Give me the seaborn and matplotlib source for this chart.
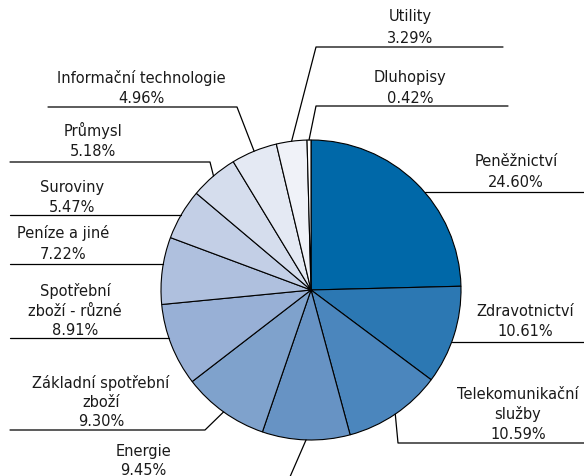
import numpy as np
import seaborn as sns
import matplotlib.pyplot as plt

# --- data ---
sectors = ['Peněžnictví', 'Zdravotnictví', 'Telekomunikační\nslužby', 'Energie',
           'Základní spotřební\nzboží', 'Spotřební\nzboží - různé', 'Peníze a jiné',
           'Suroviny', 'Průmysl', 'Informační technologie', 'Utility', 'Dluhopisy']
shares = [24.60, 10.61, 10.59, 9.45, 9.30, 8.91, 7.22, 5.47, 5.18, 4.96, 3.29, 0.42]
colors = ['#0068a8', '#2c78b3', '#4b86bd', '#6793c4', '#7fa2cc', '#98b0d6',
          '#afc0de', '#c3cfe6', '#d5dded', '#e4e9f3', '#f0f2f8', '#ffffff']

# label layout in pixel coordinates (y from top):
# text centre x, text baselines y, underline y, elbow x (None = line meets circle), far end x
layout = [
    (516, [166, 187], 193, None, 584),
    (525, [316, 336], 343, None, 584),
    (518, [399, 419, 439], 444, 398, 584),
    (143, [456, 475], 487, 286, 100),
    (101, [388, 407, 426], 431, 205, 10),
    (75, [296, 316, 335], 339, None, 10),
    (63, [238, 259], 265, None, 10),
    (72, [192, 212], 216, None, 10),
    (93, [136, 156], 163, 210, 10),
    (141, [83, 103], 108, 237, 48),
    (410, [21, 43], 48, 316, 503),
    (410, [82, 103], 107, 316, 508),
]

W, H = 584, 477
CX, CY, R = 311, 291, 150

sns.set_style('white')
plt.rcParams['font.family'] = ['DejaVu Sans']

fig = plt.figure(figsize=(W / 100, H / 100), dpi=100)
ax = fig.add_axes([0, 0, 1, 1])
ax.axis('off')


def py(y):
    return H - y


wedges, _ = ax.pie(shares, colors=colors, startangle=90, counterclock=False,
                   center=(CX, py(CY)), radius=R,
                   wedgeprops=dict(edgecolor='black', linewidth=0.8))
ax.set_xlim(0, W)
ax.set_ylim(0, H)

for w, name, val, (tx, ty, ly, ex, fx) in zip(wedges, sectors, shares, layout):
    if ex is None:
        # horizontal line ends on the circle edge
        dx = np.sqrt(max(R ** 2 - (ly - CY) ** 2, 0))
        x0 = CX + dx if fx > CX else CX - dx
        ax.plot([x0, fx], [py(ly), py(ly)], color='black', lw=0.9)
    else:
        mid = np.deg2rad((w.theta1 + w.theta2) / 2)
        ax_x = CX + R * np.cos(mid)
        ax_y = py(CY) + R * np.sin(mid)
        ax.plot([ax_x, ex, fx], [ax_y, py(ly), py(ly)], color='black', lw=0.9,
                clip_on=False)
    lines = name.split('\n') + [f'{val:.2f}%']
    for txt, yy in zip(lines, ty):
        ax.text(tx, py(yy), txt, ha='center', va='baseline', fontsize=10.5,
                color='#1a1a1a')

fig.savefig('out.png', dpi=100)
